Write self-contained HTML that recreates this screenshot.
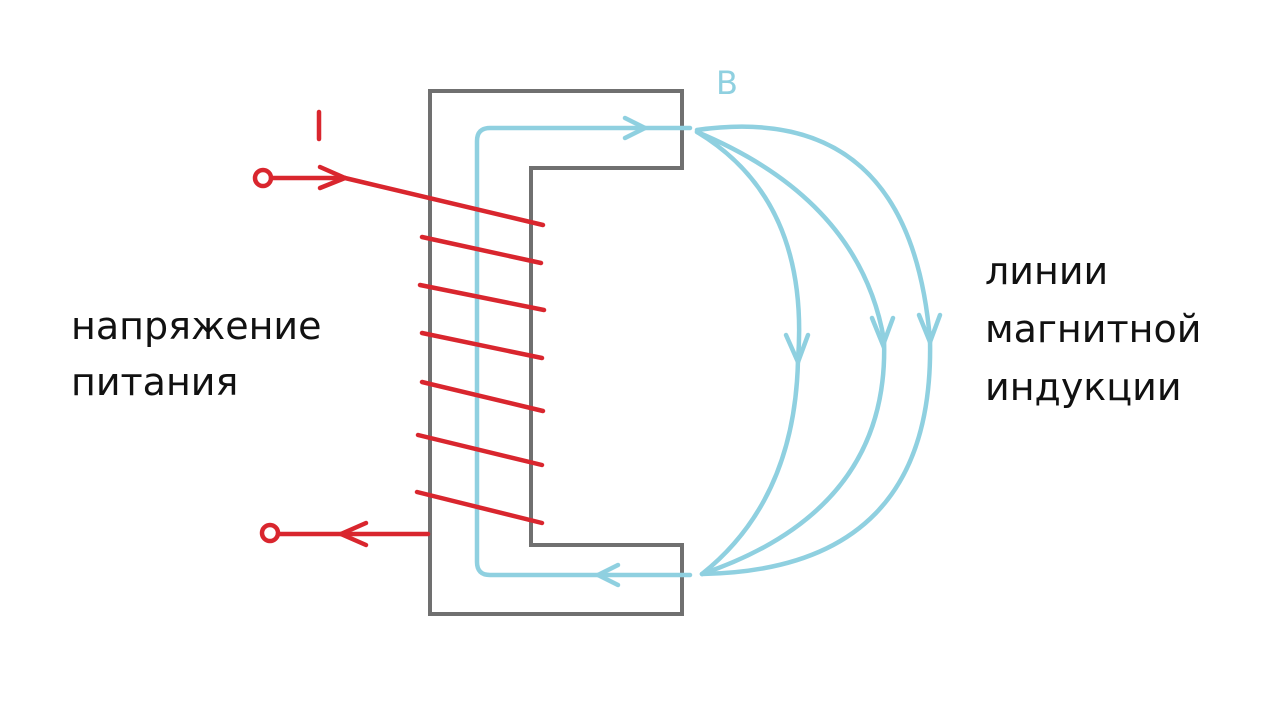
<!DOCTYPE html>
<html><head><meta charset="utf-8"><style>
html,body{margin:0;padding:0;background:#fff;}
svg{display:block}
text{font-family:"DejaVu Sans","Liberation Sans",sans-serif;}
</style></head><body>
<svg width="1280" height="720" viewBox="0 0 1280 720">
<rect width="1280" height="720" fill="#fff"/>
<path d="M682,168 L682,91 L430,91 L430,614 L682,614 L682,545 L531,545 L531,168 Z" fill="none" stroke="#707070" stroke-width="4"/>
<g fill="none" stroke="#8fd0e0" stroke-width="4.5" stroke-linecap="round">
<path d="M690,128 L490,128 Q477,128 477,141 L477,562 Q477,575 490,575 L690,575"/>
<path d="M625,118 L645,128 L625,138"/>
<path d="M618,565 L598,575 L618,585"/>
<path d="M697,132 Q810,200 798,360 Q795,500 702,574"/>
<path d="M697,132 Q860,200 884,340 Q890,510 702,574"/>
<path d="M697,130 Q910,100 930,340 Q935,570 702,574"/>
<path d="M786,335 L798,362 L808,335"/>
<path d="M872,318 L883,345 L893,318"/>
<path d="M919,315 L930,342 L940,315"/>
</g>
<g fill="none" stroke="#d9262e" stroke-width="4.5" stroke-linecap="round">
<circle cx="263" cy="178" r="8"/>
<path d="M271,178 L345,178"/>
<path d="M320,167 L345,178 L320,188"/>
<path d="M345,178 L543,225"/>
<path d="M422,237 L541,263"/>
<path d="M420,285 L544,310"/>
<path d="M422,333 L542,358"/>
<path d="M422,382 L543,411"/>
<path d="M418,435 L542,465"/>
<path d="M417,492 L542,523"/>
<circle cx="270" cy="533" r="8"/>
<path d="M278,534 L428,534"/>
<path d="M366,523 L341,534 L366,545"/>
<path d="M319,112 L319,139"/>
</g>
<text x="716" y="94" font-size="32" fill="#8fd0e0">B</text>
<text x="71" y="339" font-size="38" fill="#111">напряжение</text>
<text x="71" y="395" font-size="38" fill="#111">питания</text>
<text x="985" y="284" font-size="38" fill="#111">линии</text>
<text x="985" y="342" font-size="38" fill="#111">магнитной</text>
<text x="985" y="400" font-size="38" fill="#111">индукции</text>
</svg>
</body></html>
